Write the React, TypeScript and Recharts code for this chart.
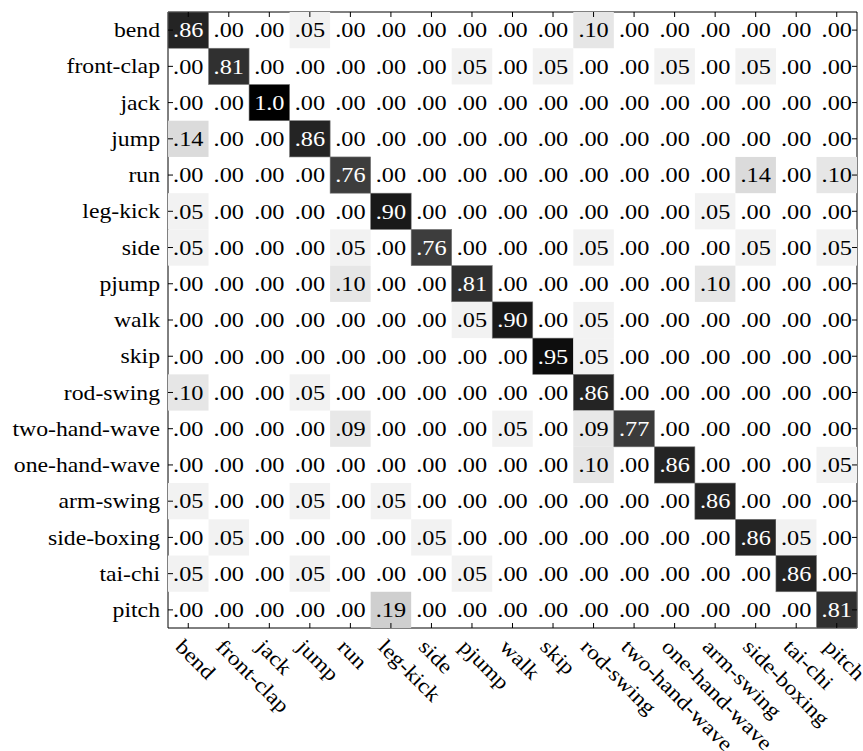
import { ScatterChart, Scatter, XAxis, YAxis } from "recharts";

// ── Dados ─────────────────────────────────────────────────────────────────────
const CLASSES = [
  "bend", "front-clap", "jack", "jump", "run", "leg-kick", "side", "pjump", "walk",
  "skip", "rod-swing", "two-hand-wave", "one-hand-wave", "arm-swing", "side-boxing", "tai-chi", "pitch",
];

// linha = classe real, coluna = classe prevista
const ROWS: number[][] = [
  [0.86, 0, 0, 0.05, 0, 0, 0, 0, 0, 0, 0.10, 0, 0, 0, 0, 0, 0],
  [0, 0.81, 0, 0, 0, 0, 0, 0.05, 0, 0.05, 0, 0, 0.05, 0, 0.05, 0, 0],
  [0, 0, 1.0, 0, 0, 0, 0, 0, 0, 0, 0, 0, 0, 0, 0, 0, 0],
  [0.14, 0, 0, 0.86, 0, 0, 0, 0, 0, 0, 0, 0, 0, 0, 0, 0, 0],
  [0, 0, 0, 0, 0.76, 0, 0, 0, 0, 0, 0, 0, 0, 0, 0.14, 0, 0.10],
  [0.05, 0, 0, 0, 0, 0.90, 0, 0, 0, 0, 0, 0, 0, 0.05, 0, 0, 0],
  [0.05, 0, 0, 0, 0.05, 0, 0.76, 0, 0, 0, 0.05, 0, 0, 0, 0.05, 0, 0.05],
  [0, 0, 0, 0, 0.10, 0, 0, 0.81, 0, 0, 0, 0, 0, 0.10, 0, 0, 0],
  [0, 0, 0, 0, 0, 0, 0, 0.05, 0.90, 0, 0.05, 0, 0, 0, 0, 0, 0],
  [0, 0, 0, 0, 0, 0, 0, 0, 0, 0.95, 0.05, 0, 0, 0, 0, 0, 0],
  [0.10, 0, 0, 0.05, 0, 0, 0, 0, 0, 0, 0.86, 0, 0, 0, 0, 0, 0],
  [0, 0, 0, 0, 0.09, 0, 0, 0, 0.05, 0, 0.09, 0.77, 0, 0, 0, 0, 0],
  [0, 0, 0, 0, 0, 0, 0, 0, 0, 0, 0.10, 0, 0.86, 0, 0, 0, 0.05],
  [0.05, 0, 0, 0.05, 0, 0.05, 0, 0, 0, 0, 0, 0, 0, 0.86, 0, 0, 0],
  [0, 0.05, 0, 0, 0, 0, 0.05, 0, 0, 0, 0, 0, 0, 0, 0.86, 0.05, 0],
  [0.05, 0, 0, 0.05, 0, 0, 0, 0.05, 0, 0, 0, 0, 0, 0, 0, 0.86, 0],
  [0, 0, 0, 0, 0, 0.19, 0, 0, 0, 0, 0, 0, 0, 0, 0, 0, 0.81],
];

// ── Layout ────────────────────────────────────────────────────────────────────
const W = 863, H = 751;
const LEFT = 168, TOP = 12, RIGHT_W = 6, BOTTOM_H = 123;
const N = CLASSES.length;
const CELL_W = (W - LEFT - RIGHT_W) / N;
const CELL_H = (H - TOP - BOTTOM_H) / N;
const FONT = "Liberation Serif, Times New Roman, serif";
const SX = 1.13; // texto levemente esticado na horizontal, como na figura
const TICKS = CLASSES.map((_, i) => i);
const DOMAIN: [number, number] = [-0.5, N - 0.5];

const fmt = (v: number) => (v >= 1 ? "1.0" : "." + Math.round(v * 100).toString().padStart(2, "0"));
const gray = (v: number) => {
  const g = Math.round(255 * (1 - v));
  return `rgb(${g},${g},${g})`;
};

const cells = ROWS.flatMap((row, r) => row.map((value, c) => ({ col: c, row: r, value })));

// ── Componentes auxiliares ────────────────────────────────────────────────────
function CellShape(props: any) {
  const { cx, cy, payload } = props;
  if (cx == null || cy == null) return null;
  const v = payload.value as number;
  return (
    <g>
      {v > 0 && (
        <rect x={cx - CELL_W / 2} y={cy - CELL_H / 2} width={CELL_W} height={CELL_H}
          fill={gray(v)} stroke={v > 0.5 ? "#777" : "none"} strokeWidth={0.6} />
      )}
      <text x={0} y={0} dy="0.34em" textAnchor="middle" fontSize={21.5}
        style={{ fontFamily: FONT }} fill={v > 0.5 ? "#fff" : "#000"}
        transform={`translate(${cx},${cy}) scale(${SX},1)`}>
        {fmt(v)}
      </text>
    </g>
  );
}

function BottomTick({ x, y, payload }: any) {
  return (
    <g>
      <line x1={x} y1={y} x2={x} y2={y - 5} stroke="#000" />
      <text x={0} y={0} fontSize={21} style={{ fontFamily: FONT }} textAnchor="start"
        transform={`translate(${x - 14},${y + 20}) rotate(45) scale(${SX},1)`}>
        {CLASSES[payload.value]}
      </text>
    </g>
  );
}

function LeftTick({ x, y, payload }: any) {
  return (
    <g>
      <line x1={x} y1={y} x2={x + 5} y2={y} stroke="#000" />
      <text x={0} y={0} dy="0.34em" fontSize={21} style={{ fontFamily: FONT }} textAnchor="end"
        transform={`translate(${x - 8},${y}) scale(${SX},1)`}>
        {CLASSES[payload.value]}
      </text>
    </g>
  );
}

const TopTick = ({ x, y }: any) => <line x1={x} y1={y} x2={x} y2={y + 5} stroke="#000" />;
const RightTick = ({ x, y }: any) => <line x1={x} y1={y} x2={x - 5} y2={y} stroke="#000" />;

// ── Main ──────────────────────────────────────────────────────────────────────
export default function App() {
  return (
    <div style={{ position: "fixed", left: 0, top: 0, width: W, height: H, background: "#fff", fontFamily: FONT }}>
      <ScatterChart width={W} height={H} margin={{ top: 0, right: 0, bottom: 0, left: 0 }}>
        <XAxis xAxisId="b" type="number" dataKey="col" domain={DOMAIN} ticks={TICKS} interval={0}
          orientation="bottom" height={BOTTOM_H} tickSize={0} tickMargin={0}
          axisLine={{ stroke: "#000" }} tickLine={false} tick={<BottomTick />} allowDataOverflow />
        <XAxis xAxisId="t" type="number" dataKey="col" domain={DOMAIN} ticks={TICKS} interval={0}
          orientation="top" height={TOP} tickSize={0} tickMargin={0}
          axisLine={{ stroke: "#000" }} tickLine={false} tick={<TopTick />} allowDataOverflow />
        <YAxis yAxisId="l" type="number" dataKey="row" domain={DOMAIN} ticks={TICKS} interval={0}
          reversed orientation="left" width={LEFT} tickSize={0} tickMargin={0}
          axisLine={{ stroke: "#000" }} tickLine={false} tick={<LeftTick />} allowDataOverflow />
        <YAxis yAxisId="r" type="number" dataKey="row" domain={DOMAIN} ticks={TICKS} interval={0}
          reversed orientation="right" width={RIGHT_W} tickSize={0} tickMargin={0}
          axisLine={{ stroke: "#000" }} tickLine={false} tick={<RightTick />} allowDataOverflow />
        <Scatter data={cells} xAxisId="b" yAxisId="l" shape={<CellShape />} isAnimationActive={false} />
        <Scatter data={cells} xAxisId="t" yAxisId="r" shape={() => <g />} isAnimationActive={false} />
      </ScatterChart>
    </div>
  );
}
